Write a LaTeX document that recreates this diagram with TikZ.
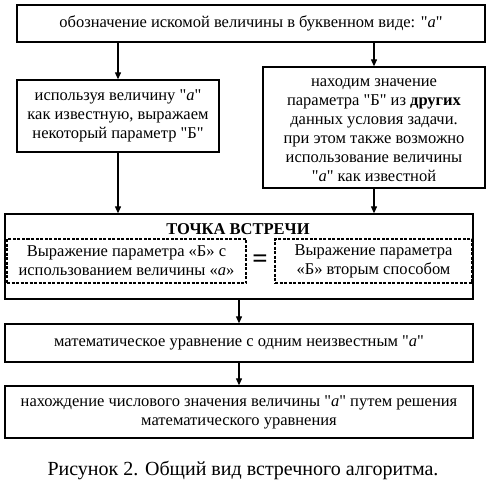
\documentclass[tikz,border=0pt]{standalone}
\usepackage{fontspec}
\setmainfont{Liberation Serif}
\newcommand\dq{\XeTeXglyph\XeTeXcharglyph"22\relax}
\usetikzlibrary{arrows.meta}
\begin{document}
\begin{tikzpicture}[x=1pt,y=-1pt,
  txt/.style={font=\fontsize{16.5}{19}\selectfont},
  box/.style={txt,draw,line width=1.3pt,rectangle,inner sep=0pt,align=center},
  dbox/.style={txt,draw,line width=1.4pt,dash pattern=on 3pt off 1.5pt,rectangle,inner sep=0pt,align=center},
  arr/.style={line width=1.1pt,-{Triangle[length=7pt,width=6pt]}}]
\useasboundingbox (0,0) rectangle (489,500);
\node[box,minimum width=468pt,minimum height=37pt] (top) at (251,23.5) {обозначение искомой величины в буквенном виде: \dq\textit{a}\dq};
\node[box,minimum width=202pt,minimum height=72pt] (lb) at (118,116) {используя величину \dq\textit{a}\dq\\как известную, выражаем\\некоторый параметр \dq Б\dq};
\node[box,minimum width=222pt,minimum height=121pt] (rb) at (374,127.5) {};
\node[txt,align=center,inner sep=0pt] (rbt) at (374,130) {находим значение\\параметра \dq Б\dq{} из \textbf{других}\\данных условия задачи.\\при этом также возможно\\использование величины\\\dq\textit{a}\dq{} как известной};
\node[box,minimum width=468pt,minimum height=85pt] (meet) at (239,256.5) {};
\node[font=\bfseries\fontsize{16.5}{19}\selectfont,inner sep=0pt] (title) at (238,229) {ТОЧКА ВСТРЕЧИ};
\node[dbox,minimum width=239pt,minimum height=44pt] (dl) at (126.5,261) {Выражение параметра «Б» с\\использованием величины «\textit{a}»};
\node[dbox,minimum width=197pt,minimum height=44pt] (dr) at (373.5,261) {Выражение параметра\\«Б» вторым способом};
\node[font=\bfseries\fontsize{27}{27}\selectfont,inner sep=0pt] (eq) at (260,261) {=};
\node[box,minimum width=468pt,minimum height=38pt] (eqb) at (239,343) {математическое уравнение с одним неизвестным \dq\textit{a}\dq};
\node[box,minimum width=468pt,minimum height=52pt] (last) at (239,412) {нахождение числового значения величины \dq\textit{a}\dq{} путем решения\\математического уравнения};
\node[font=\fontsize{20}{22}\selectfont,inner sep=0pt] (cap) at (243,470) {Рисунок 2. Общий вид встречного алгоритма.};
\draw[arr] (top.south -| lb.north) -- (lb.north);
\draw[arr] (top.south -| rb.north) -- (rb.north);
\draw[arr] (lb.south) -- (lb.south |- meet.north);
\draw[arr] (rb.south) -- (rb.south |- meet.north);
\draw[arr] (meet.south) -- (eqb.north);
\draw[arr] (eqb.south) -- (last.north);
\end{tikzpicture}
\end{document}
